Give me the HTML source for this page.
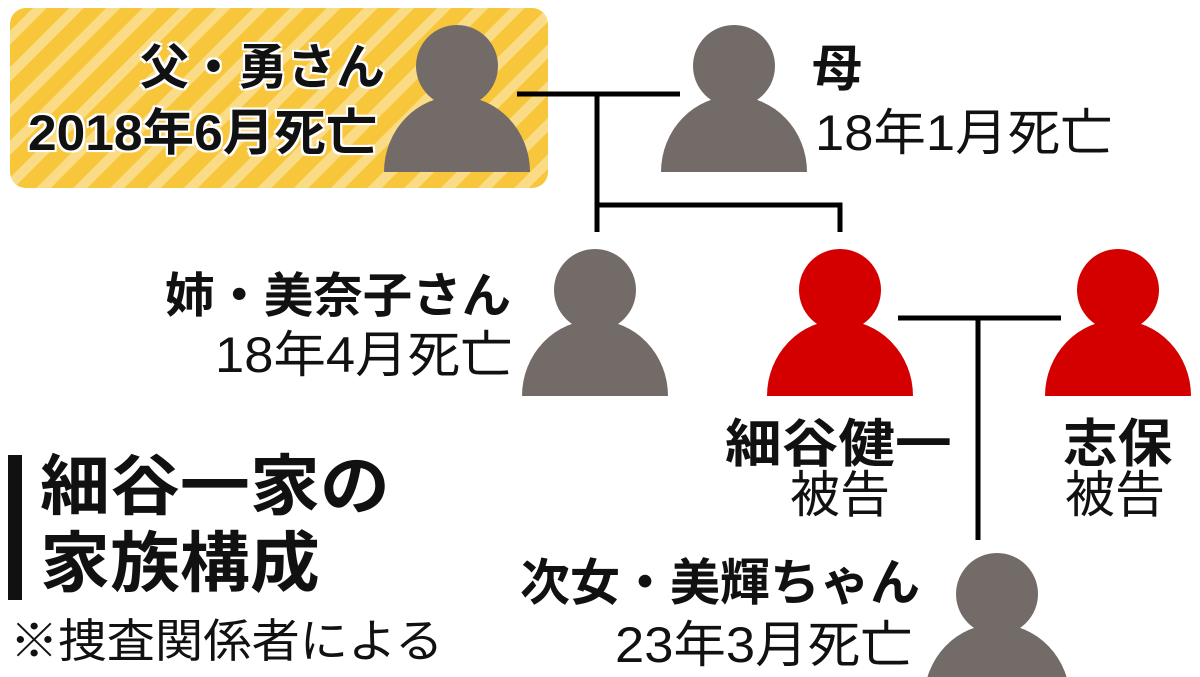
<!DOCTYPE html>
<html><head><meta charset="utf-8"><style>
body{margin:0;width:1200px;height:677px;background:#fff;overflow:hidden;position:relative;font-family:"Liberation Sans","Noto Sans CJK JP",sans-serif;color:#111}
.t{position:absolute;white-space:nowrap;line-height:1;transform-origin:0 0}
.b{font-weight:bold}
.box{position:absolute;left:10px;top:8px;width:538px;height:180px;border-radius:16px;
background:repeating-linear-gradient(135deg,#f8c63a 0 16px,#fbdc86 16px 26px)}
.halo{text-shadow:0 0 3px #fff,0 0 3px #fff,2px 2px 0 #fff,-2px -2px 0 #fff,2px -2px 0 #fff,-2px 2px 0 #fff}
</style></head><body>
<div class="box"></div>
<svg width="1200" height="677" style="position:absolute;left:0;top:0">
<defs>
<g id="p"><circle cx="0" cy="-106" r="41"/><path d="M-73 0 A73 76 0 0 1 73 0 Z"/></g>
</defs>
<g fill="#736b68">
<use href="#p" x="457" y="172"/>
<use href="#p" x="734" y="172"/>
<use href="#p" x="595" y="396"/>
<use href="#p" x="997" y="700"/>
</g>
<g fill="#d40000">
<use href="#p" x="840" y="396"/>
<use href="#p" x="1118" y="396"/>
</g>
<g stroke="#000" stroke-width="5" fill="none">
<path d="M517 94H680M597 94V232M597 205H840V232"/>
<path d="M898 318H1061M978 318V540"/>
</g>
<rect x="8" y="455" width="14" height="145" fill="#111"/>
</svg>
<div class="t b halo" style="left:140px;top:44px;font-size:49px">父・勇さん</div>
<div class="t b halo" style="left:28px;top:108px;font-size:50px;transform:scaleX(1.03)">2018年6月死亡</div>
<div class="t b" style="left:812px;top:44px;font-size:50px">母</div>
<div class="t" style="left:815px;top:108px;font-size:50px;transform:scaleX(1.05)">18年1月死亡</div>
<div class="t b" style="left:165px;top:273px;font-size:48px;transform:scaleX(1.03)">姉・美奈子さん</div>
<div class="t" style="left:215px;top:330px;font-size:50px;transform:scaleX(1.05)">18年4月死亡</div>
<div class="t b" style="left:725px;top:419px;font-size:52px;transform:scaleX(1.09)">細谷健一</div>
<div class="t" style="left:790px;top:470px;font-size:50px">被告</div>
<div class="t b" style="left:1063px;top:419px;font-size:52px;transform:scaleX(1.05)">志保</div>
<div class="t" style="left:1065px;top:470px;font-size:50px">被告</div>
<div class="t b" style="left:520px;top:558px;font-size:50px">次女・美輝ちゃん</div>
<div class="t" style="left:615px;top:620px;font-size:50px;transform:scaleX(1.05)">23年3月死亡</div>
<div class="t b" style="left:40px;top:453px;font-size:66px;transform:scaleX(1.06)">細谷一家の</div>
<div class="t b" style="left:40px;top:530px;font-size:66px;transform:scaleX(1.06)">家族構成</div>
<div class="t" style="left:10px;top:618px;font-size:46px;transform:scaleX(1.05)">※捜査関係者による</div>
</body></html>
